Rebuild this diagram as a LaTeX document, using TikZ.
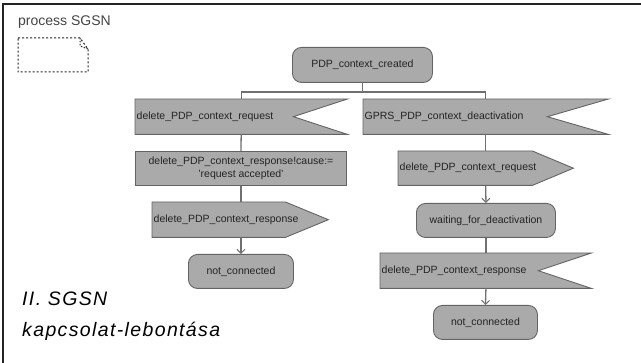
\documentclass[tikz,border=0pt]{standalone}
\usepackage{fontspec}
\setmainfont{Liberation Sans}
\newfontfamily\captionfont[LetterSpace=7]{Liberation Sans}
\usetikzlibrary{arrows.meta,calc}
\pgfdeclarelayer{background}
\pgfsetlayers{background,main}
\definecolor{boxfill}{RGB}{170,170,170}
\definecolor{boxline}{RGB}{100,100,100}
\definecolor{wire}{RGB}{112,112,112}
\definecolor{ink}{RGB}{35,35,35}
\tikzset{
  lbl/.style={font=\fontsize{10.5}{12.5}\selectfont, text=ink},
  sdlshape/.style={lbl, inner sep=0pt, minimum height=35, anchor=north west},
  sdlfill/.style={draw=boxline, fill=boxfill, line width=0.9pt, line join=miter},
  state/.style={sdlshape, sdlfill, rounded corners=9pt},
  taskbox/.style={sdlshape, sdlfill, align=center},
  sigbox/.style={sdlshape, inner xsep=1.5pt, align=left},
  wireline/.style={draw=wire, line width=1.3pt},
  flow/.style={wireline, -{Straight Barb[length=4pt,width=8pt,line width=1pt]}},
}
\begin{document}
\begin{tikzpicture}[x=1pt,y=-1pt]
  \useasboundingbox (0,0) rectangle (641,363);
  % frame edges
  \draw[line width=1.4pt, ink] (3,363) -- (3,4) -- (641,4);

  % header
  \node[anchor=base west, inner sep=0pt, font=\fontsize{14}{16}\selectfont, text=ink!85] (title) at (18,26) {process SGSN};
  \draw[ink, line width=1pt, dash pattern=on 2pt off 2pt] (18,38) -- (80,38) -- (88,49) -- (88,72) -- (18,72) -- cycle;
  \draw[ink, line width=1pt, dash pattern=on 1.5pt off 1.5pt] (80,38) -- (80,46) -- (88,49);

  % start state
  \node[state, minimum width=140] (pdp) at (292,47) {PDP\_context\_created};
  \coordinate (fork) at ($(pdp.south)+(0,9)$);

  % left branch
  \node[sigbox, minimum width=212, text width=209] (in1) at (135,99) {delete\_PDP\_context\_request};
  \node[taskbox, minimum width=211, minimum height=34] (task) at (135,151) {delete\_PDP\_context\_response!cause:=\\'request accepted'};
  \node[sigbox, minimum width=176, text width=173] (out1) at (152,202) {delete\_PDP\_context\_response};
  \node[state, minimum width=105, minimum height=34] (nc1) at (188,254) {not\_connected};

  % right branch
  \node[sigbox, minimum width=245, text width=242] (in2) at (363,99) {GPRS\_PDP\_context\_deactivation};
  \node[sigbox, minimum width=175, text width=172, minimum height=34] (out2) at (398,151) {delete\_PDP\_context\_request};
  \node[state, minimum width=139, minimum height=34] (wait) at (416,203) {waiting\_for\_deactivation};
  \node[sigbox, minimum width=211, text width=208] (in3) at (380,253) {delete\_PDP\_context\_response};
  \node[state, minimum width=104, minimum height=34] (nc2) at (433,305) {not\_connected};

  % signal outlines behind their labels
  \begin{pgfonlayer}{background}
    \fill[white] (0,0) rectangle (641,363);
    \path[sdlfill] (in1.north west) -- (in1.north east) -- ($(in1.east)+(-54,0)$) -- (in1.south east) -- (in1.south west) -- cycle;
    \path[sdlfill] (in2.north west) -- (in2.north east) -- ($(in2.east)+(-61,0)$) -- (in2.south east) -- (in2.south west) -- cycle;
    \path[sdlfill] (in3.north west) -- (in3.north east) -- ($(in3.east)+(-53,0)$) -- (in3.south east) -- (in3.south west) -- cycle;
    \path[sdlfill] (out1.north west) -- ($(out1.north east)+(-43,0)$) -- (out1.east) -- ($(out1.south east)+(-43,0)$) -- (out1.south west) -- cycle;
    \path[sdlfill] (out2.north west) -- ($(out2.north east)+(-41,0)$) -- (out2.east) -- ($(out2.south east)+(-41,0)$) -- (out2.south west) -- cycle;
  \end{pgfonlayer}

  % connectors
  \draw[wireline] (pdp.south) -- (fork);
  \draw[wireline] (fork) -| (in1.north);
  \draw[wireline] (fork) -| (in2.north);
  \draw[wireline] (in1.south) -- (task.north);
  \draw[wireline] (task.south) -- (task.south |- out1.north);
  \draw[flow] (task.south |- out1.south) -- (task.south |- nc1.north);
  \draw[wireline] (in2.south) -- (in2.south |- out2.north);
  \draw[flow] (in2.south |- out2.south) -- (wait.north);
  \draw[wireline] (wait.south) -- (wait.south |- in3.north);
  \draw[flow] (wait.south |- in3.south) -- (nc2.north);

  % caption
  \node[anchor=base west, inner sep=0pt, align=left, font=\captionfont\itshape\fontsize{19.5}{31}\selectfont, text=black] (caption) at (22,337) {II. SGSN\\kapcsolat-lebontása};
\end{tikzpicture}
\end{document}
